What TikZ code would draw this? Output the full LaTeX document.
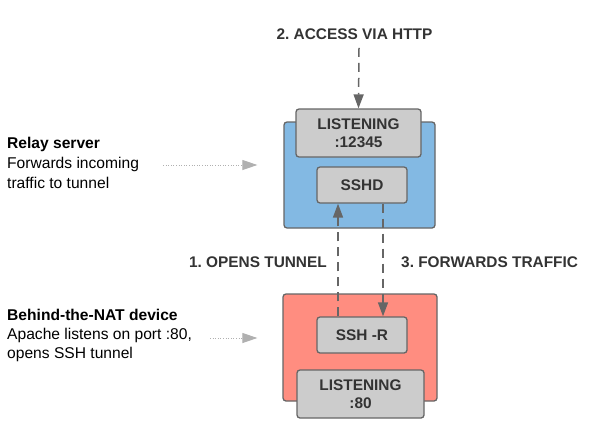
\documentclass[tikz,border=0pt]{standalone}
\usepackage{fontspec}
\setmainfont{Liberation Sans}
\usetikzlibrary{arrows.meta}
\definecolor{relayblue}{HTML}{83B9E3}
\definecolor{natred}{HTML}{FF8D80}
\definecolor{boxgray}{HTML}{CCCCCC}
\definecolor{linegray}{HTML}{666666}
\definecolor{textgray}{HTML}{333333}
\definecolor{hintgray}{HTML}{B0B0B0}
\frenchspacing
\begin{document}
\begin{tikzpicture}[x=1pt,y=-1pt,>={Triangle[length=14pt,width=10pt]},
	host/.style={draw=linegray,line width=1.3pt,rounded corners=3pt},
	part/.style={host,fill=boxgray,font=\bfseries\fontsize{15.4}{18}\selectfont,text=textgray,align=center,inner sep=0pt},
	tag/.style={font=\bfseries\fontsize{15.4}{18}\selectfont,text=textgray},
	note/.style={align=left,anchor=west,inner sep=0pt,font=\fontsize{15.6}{20}\selectfont},
	flow/.style={draw=linegray,line width=1.5pt,dash pattern=on 9pt off 6pt,->,color=linegray},
	hint/.style={draw=hintgray,line width=1pt,dash pattern=on 1pt off 1.6pt,-{Triangle[length=15pt,width=10pt]},color=hintgray}]
	\useasboundingbox (0,0) rectangle (596,434);
	% relay server
	\node[host,fill=relayblue,minimum width=151pt,minimum height=106pt] (relay) at (359.5,175) {};
	\node[part,minimum width=125pt,minimum height=48pt] (lst) at (358.5,133) {LISTENING\\:12345};
	\node[part,minimum width=90pt,minimum height=36pt] (sshd) at (362,185) {SSHD};
	% device behind the NAT
	\node[host,fill=natred,minimum width=154pt,minimum height=107pt] (nat) at (360,347.5) {};
	\node[part,minimum width=90pt,minimum height=36pt] (sshr) at (362,335) {SSH -R};
	\node[part,minimum width=127pt,minimum height=48pt] (web) at (360.5,394) {LISTENING\\:80};
	% labels
	\node[tag] (access) at (354.5,34) {2. ACCESS VIA HTTP};
	\node[tag,anchor=east,inner sep=0pt] (opens) at (327,262) {1. OPENS TUNNEL};
	\node[tag,anchor=west,inner sep=0pt] (fwd) at (401,262) {3. FORWARDS TRAFFIC};
	\node[note] (relaynote) at (7,163) {\textbf{Relay server}\\Forwards incoming\\traffic to tunnel};
	\node[note,font=\fontsize{15.6}{19}\selectfont] (natnote) at (7,335) {\textbf{Behind-the-NAT device}\\Apache listens on port :80,\\opens SSH tunnel};
	% connections
	\draw[flow] ([xshift=4.5pt,yshift=-5pt]access.south) -- (lst.north);
	\draw[flow] ([xshift=-24pt]sshr.north) -- ([xshift=-24pt]sshd.south);
	\draw[flow] ([xshift=21pt]sshd.south) -- ([xshift=21pt]sshr.north);
	\draw[hint] (163,165) -- ([xshift=-26pt]relay.west |- 0,165);
	\draw[hint] (210,338) -- ([xshift=-26pt]relay.west |- 0,338);
\end{tikzpicture}
\end{document}
